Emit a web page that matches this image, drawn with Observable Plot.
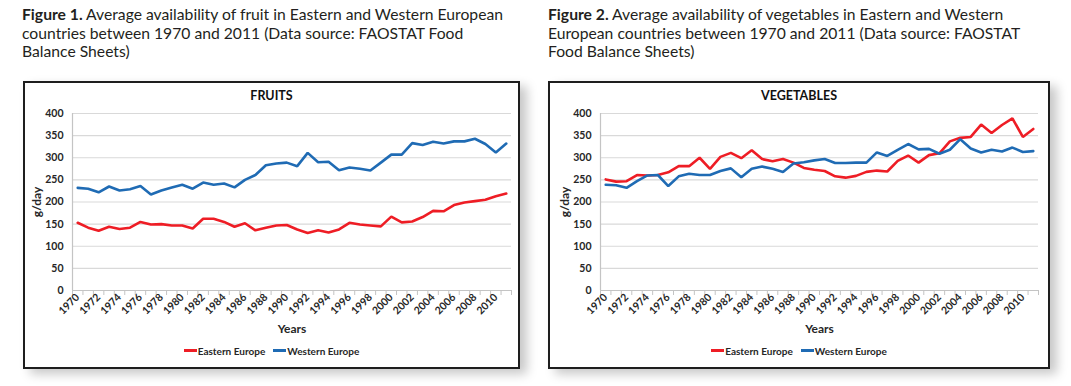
<!DOCTYPE html>
<html>
<head>
<meta charset="utf-8">
<script src="https://cdn.jsdelivr.net/npm/d3@7"></script>
<script src="https://cdn.jsdelivr.net/npm/@observablehq/plot@0.6"></script>
<style>
  html, body { margin: 0; padding: 0; background: #fff; }
  body { width: 1071px; height: 386px; position: relative; overflow: hidden; font-family: Lato, "Open Sans", sans-serif; }
  .caption { position: absolute; top: 5px; font-size: 15.7px; line-height: 18.5px; color: #231f20; }
  .caption b { font-weight: 700; }
  .box { position: absolute; top: 81px; height: 288px; border: 2px solid #1e1e1e; box-sizing: border-box; background: #fff;
         box-shadow: 7px 5px 10px rgba(0,0,0,0.22); }
  .title { position: absolute; top: 88px; text-align: center; font-weight: 700; font-size: 12.5px; color: #111; }
  .legend { position: absolute; top: 342px; text-align: center; font-size: 10px; font-weight: 700; color: #262626; white-space: nowrap; }
  .legend .item { display: inline-flex; align-items: center; margin: 0 4px; }
  .legend .sw { display: inline-block; width: 13px; height: 3px; margin-right: 1px; }
  .chart { position: absolute; top: 100px; }
  .chart svg [aria-label="y-axis label"] text { font-size: 12px; }
  .chart svg [aria-label="x-axis label"] text { font-size: 12px; }
</style>
</head>
<body>
<div class="caption" style="left:22px"><b>Figure 1.</b> Average availability of fruit in Eastern and Western European<br>countries between 1970 and 2011 (Data source: FAOSTAT Food<br>Balance Sheets)</div>
<div class="caption" style="left:548px"><b>Figure 2.</b> Average availability of vegetables in Eastern and Western<br>European countries between 1970 and 2011 (Data source: FAOSTAT<br>Food Balance Sheets)</div>
<script>
// ---- data ----
const years = [1970,1971,1972,1973,1974,1975,1976,1977,1978,1979,
               1980,1981,1982,1983,1984,1985,1986,1987,1988,1989,
               1990,1991,1992,1993,1994,1995,1996,1997,1998,1999,
               2000,2001,2002,2003,2004,2005,2006,2007,2008,2009,
               2010,2011];
const xTickLabels = [1970,1972,1974,1976,1978,1980,1982,1984,1986,1988,1990,
                     1992,1994,1996,1998,2000,2002,2004,2006,2008,2010];
const yTicks = [0,50,100,150,200,250,300,350,400];
const seriesNames = ["Eastern Europe", "Western Europe"];
const seriesColors = ["#ee1d25", "#1f6bb4"];

const fruitEastern = [153,142,135,144,139,142,155,149,150,147,
                      147,140,162,162,155,144,152,136,142,147,
                      148,138,130,136,131,138,153,149,147,145,
                      167,154,156,166,180,179,193,199,202,205,
                      213,219];
const fruitWestern = [232,230,222,235,226,229,236,217,226,233,
                      239,230,244,239,242,233,250,261,283,287,
                      289,281,311,290,291,272,278,275,271,289,
                      307,307,333,329,336,332,337,337,343,331,
                      312,332];
const vegEastern = [251,246,247,261,260,261,267,281,281,300,
                    275,302,311,299,317,297,292,297,289,277,
                    273,270,258,255,259,268,271,269,293,305,
                    289,306,310,337,345,347,375,356,374,389,
                    347,365];
const vegWestern = [239,238,232,247,260,261,236,258,264,261,
                    261,270,276,256,275,280,275,268,287,290,
                    294,297,288,288,289,289,312,304,318,331,
                    319,320,309,318,342,321,312,318,314,323,
                    313,315];

const panels = [
  {title: "FRUITS", east: fruitEastern, west: fruitWestern,
   boxLeft: 23, boxWidth: 497, svgLeft: 25, svgWidth: 492, marginLeft: 47, marginRight: 6},
  {title: "VEGETABLES", east: vegEastern, west: vegWestern,
   boxLeft: 548, boxWidth: 502, svgLeft: 550, svgWidth: 496, marginLeft: 50, marginRight: 8}
];

const xDomain = [years[0] - 0.5, years[years.length - 1] + 0.5];
const boundaries = years.map(y => y - 0.5).concat([years[years.length - 1] + 0.5]);

for (const p of panels) {
  const box = document.createElement("div");
  box.className = "box";
  box.style.left = p.boxLeft + "px";
  box.style.width = p.boxWidth + "px";
  document.body.appendChild(box);

  const t = document.createElement("div");
  t.className = "title";
  t.style.left = p.boxLeft + "px";
  t.style.width = p.boxWidth + "px";
  t.textContent = p.title;
  document.body.appendChild(t);

  const data = years.flatMap((y, i) => [
    {year: y, value: p.east[i], series: seriesNames[0]},
    {year: y, value: p.west[i], series: seriesNames[1]}
  ]);

  const svg = Plot.plot({
    width: p.svgWidth,
    height: 240,
    marginTop: 13,
    marginBottom: 50,
    marginLeft: p.marginLeft,
    marginRight: p.marginRight,
    style: {fontFamily: "Lato, sans-serif", fontSize: "10.5px", fontWeight: "bold", color: "#262626", background: "transparent"},
    x: {type: "linear", domain: xDomain},
    y: {domain: [yTicks[0], yTicks[yTicks.length - 1]]},
    color: {domain: seriesNames, range: seriesColors},
    marks: [
      Plot.gridY(yTicks, {stroke: "#d9d9d9", strokeOpacity: 1, strokeWidth: 1.2}),
      Plot.ruleY([yTicks[0]], {stroke: "#c4c4c4", strokeWidth: 1.2}),
      Plot.ruleX([xDomain[0]], {stroke: "#c4c4c4", strokeWidth: 1.2}),
      Plot.axisX(boundaries, {tickSize: 5, stroke: "#c4c4c4", fill: "none", label: null}),
      Plot.axisX(xTickLabels, {tickSize: 0, tickRotate: -45, tickPadding: 5, tickFormat: d => String(d),
                               label: "Years", labelAnchor: "center", labelOffset: 42, labelArrow: "none"}),
      Plot.axisY(yTicks, {tickSize: 0, tickPadding: 9, label: "g/day", labelAnchor: "center", labelOffset: 40, labelArrow: "none"}),
      Plot.line(data, {x: "year", y: "value", stroke: "series", strokeWidth: 2.6, strokeLinejoin: "miter"})
    ]
  });
  const wrap = document.createElement("div");
  wrap.className = "chart";
  wrap.style.left = p.svgLeft + "px";
  wrap.appendChild(svg);
  document.body.appendChild(wrap);

  const lg = document.createElement("div");
  lg.className = "legend";
  lg.style.left = p.boxLeft + "px";
  lg.style.width = p.boxWidth + "px";
  seriesNames.forEach((name, i) => {
    const it = document.createElement("span");
    it.className = "item";
    const sw = document.createElement("span");
    sw.className = "sw";
    sw.style.background = seriesColors[i];
    it.appendChild(sw);
    it.appendChild(document.createTextNode(name));
    lg.appendChild(it);
  });
  document.body.appendChild(lg);
}
</script>
</body>
</html>
